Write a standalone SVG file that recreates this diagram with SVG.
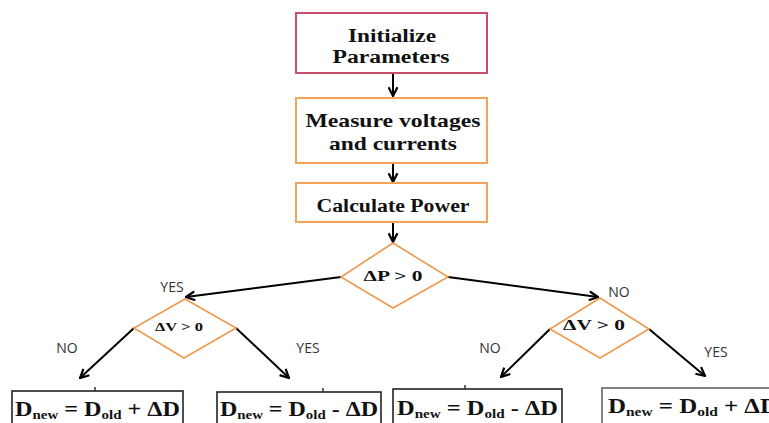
<svg xmlns="http://www.w3.org/2000/svg" width="769" height="423" viewBox="0 0 769 423">
<defs>
<marker id="ah" viewBox="0 0 10 10" refX="9" refY="5" markerWidth="11" markerHeight="11" markerUnits="userSpaceOnUse" orient="auto">
<path d="M1,1 L9,5 L1,9" fill="none" stroke="#000" stroke-width="2"/>
</marker>
<style>
.box{fill:#fff;stroke:#f4a35a;stroke-width:2}
.red{fill:#fff;stroke:#c8506a;stroke-width:2}
.dia{fill:#fff;stroke:#ec9a50;stroke-width:1.6}
.out{fill:#fff;stroke:#222;stroke-width:1.6}
.t{font-family:"Liberation Serif","Times New Roman",serif;font-weight:bold;fill:#111;text-anchor:middle}
.lbl{font-family:"Open Sans","Liberation Sans",sans-serif;font-size:14px;fill:#333;text-anchor:middle}
.eq{font-family:"Liberation Serif","Times New Roman",serif;font-weight:bold;fill:#111;font-size:21px}
.sub{font-size:13px}
.c{fill:none;stroke:#000;stroke-width:2;marker-end:url(#ah)}
.tick{stroke:#333;stroke-width:1.5}
</style>
</defs>
<rect width="769" height="423" fill="#fff"/>
<g id="connectors">
<line class="c" x1="393" y1="73" x2="393" y2="96"/>
<line class="c" x1="393" y1="163" x2="393" y2="182"/>
<line class="c" x1="393" y1="222" x2="393" y2="242"/>
<line class="c" x1="341" y1="277" x2="186" y2="297"/>
<line class="c" x1="448" y1="277" x2="598" y2="297"/>
<line class="c" x1="134" y1="328" x2="80" y2="378"/>
<line class="c" x1="236" y1="328" x2="289" y2="378"/>
<line class="c" x1="550" y1="329" x2="501" y2="377"/>
<line class="c" x1="649" y1="329" x2="705" y2="376"/>
</g>
<g id="init">
<rect class="red" x="296" y="13" width="191" height="60"/>
<text class="t" x="392" y="42" font-size="18" textLength="88" lengthAdjust="spacingAndGlyphs">Initialize</text>
<text class="t" x="391" y="63" font-size="18" textLength="117" lengthAdjust="spacingAndGlyphs">Parameters</text>
</g>
<g id="measure">
<rect class="box" x="296" y="98" width="191" height="65"/>
<text class="t" x="393" y="127" font-size="19" textLength="175" lengthAdjust="spacingAndGlyphs">Measure voltages</text>
<text class="t" x="393" y="150" font-size="19" textLength="128" lengthAdjust="spacingAndGlyphs">and currents</text>
</g>
<g id="power">
<rect class="box" x="296" y="183" width="191" height="39"/>
<text class="t" x="393" y="212" font-size="18" textLength="153" lengthAdjust="spacingAndGlyphs">Calculate Power</text>
</g>
<g id="dP">
<polygon class="dia" points="393,243 448,277 393,308 341,277"/>
<text class="t" x="393" y="281" font-size="15" textLength="59" lengthAdjust="spacingAndGlyphs">ΔP &gt; 0</text>
</g>
<g id="dV1">
<polygon class="dia" points="185,299 236,328 184,358 134,328"/>
<text class="t" x="179" y="331" font-size="13" textLength="48" lengthAdjust="spacingAndGlyphs">ΔV &gt; 0</text>
</g>
<g id="dV2">
<polygon class="dia" points="600,298 649,329 600,358 550,329"/>
<text class="t" x="594" y="330" font-size="14" textLength="62" lengthAdjust="spacingAndGlyphs">ΔV &gt; 0</text>
</g>
<g id="labels">
<text class="lbl" x="172" y="292">YES</text>
<text class="lbl" x="619" y="297">NO</text>
<text class="lbl" x="67" y="353">NO</text>
<text class="lbl" x="308" y="353">YES</text>
<text class="lbl" x="490" y="353">NO</text>
<text class="lbl" x="716" y="357">YES</text>
</g>
<g id="outA">
<rect class="out" x="12" y="391" width="171" height="40"/>
<line class="tick" x1="95" y1="387" x2="95" y2="391"/>
<text class="eq" x="15" y="416" textLength="165" lengthAdjust="spacingAndGlyphs">D<tspan class="sub" dy="3">new</tspan><tspan dy="-3"> = D</tspan><tspan class="sub" dy="3">old</tspan><tspan dy="-3"> + ΔD</tspan></text>
</g>
<g id="outB">
<rect class="out" x="217" y="392" width="164" height="40"/>
<line class="tick" x1="323" y1="388" x2="323" y2="392"/>
<text class="eq" x="220" y="416" textLength="158" lengthAdjust="spacingAndGlyphs">D<tspan class="sub" dy="3">new</tspan><tspan dy="-3"> = D</tspan><tspan class="sub" dy="3">old</tspan><tspan dy="-3"> - ΔD</tspan></text>
</g>
<g id="outC">
<rect class="out" x="393" y="389" width="169" height="40"/>
<line class="tick" x1="465" y1="385" x2="465" y2="389"/>
<text class="eq" x="397" y="415" textLength="161" lengthAdjust="spacingAndGlyphs">D<tspan class="sub" dy="3">new</tspan><tspan dy="-3"> = D</tspan><tspan class="sub" dy="3">old</tspan><tspan dy="-3"> - ΔD</tspan></text>
</g>
<g id="outD">
<rect class="out" x="602" y="388" width="180" height="40" style="stroke:#666"/>
<text class="eq" x="608" y="413" textLength="170" lengthAdjust="spacingAndGlyphs">D<tspan class="sub" dy="3">new</tspan><tspan dy="-3"> = D</tspan><tspan class="sub" dy="3">old</tspan><tspan dy="-3"> + ΔD</tspan></text>
</g>
</svg>
